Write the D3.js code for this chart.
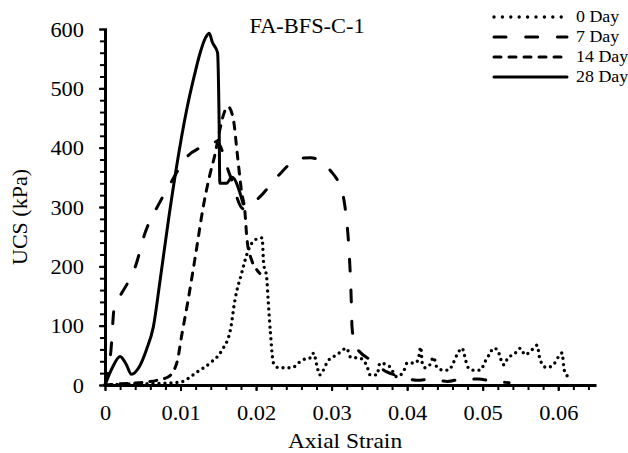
<!DOCTYPE html>
<html>
<head>
<meta charset="utf-8">
<script src="https://cdn.jsdelivr.net/npm/d3@7"></script>
<style>
  body { margin: 0; background: #fff; }
  svg { display: block; }
</style>
</head>
<body>
<svg id="chart" width="628" height="453"></svg>
<script>
// UCS vs axial strain, FA-BFS-C-1
const title = "FA-BFS-C-1";
const seriesNames = ["0 Day", "7 Day", "14 Day", "28 Day"];

const strain0 = [0, 0.004, 0.008, 0.01, 0.0122, 0.0139, 0.0155, 0.0166, 0.0172, 0.0181, 0.019, 0.0199, 0.0208, 0.021, 0.0214, 0.0216, 0.0219, 0.0223, 0.023, 0.0247, 0.0261, 0.0274, 0.0276, 0.0281, 0.0284, 0.0296, 0.0307, 0.032, 0.0325, 0.0338, 0.0347, 0.0351, 0.036, 0.0364, 0.0377, 0.0386, 0.0395, 0.04, 0.0411, 0.0415, 0.0418, 0.042, 0.0424, 0.043, 0.0435, 0.0439, 0.0448, 0.0455, 0.0461, 0.0466, 0.0473, 0.0475, 0.0481, 0.0488, 0.0497, 0.0503, 0.051, 0.0514, 0.052, 0.0523, 0.0528, 0.0534, 0.0541, 0.055, 0.0556, 0.0565, 0.0572, 0.0576, 0.0585, 0.0594, 0.0605, 0.0608, 0.0613];
const ucs0 = [0, 2, 3, 5, 22, 37, 59, 93, 143, 189, 228, 245, 248, 205, 182, 143, 88, 37, 29, 29, 42, 47, 54, 30, 17, 42, 51, 62, 47, 45, 31, 17, 17, 37, 31, 14, 22, 37, 37, 45, 64, 37, 29, 34, 47, 31, 25, 25, 37, 51, 62, 54, 29, 25, 25, 39, 54, 62, 59, 47, 34, 47, 51, 62, 51, 59, 67, 42, 29, 35, 54, 25, 14];

const strain7 = [0, 0.0008, 0.0012, 0.002, 0.003, 0.004, 0.0053, 0.0073, 0.0089, 0.0108, 0.0126, 0.0148, 0.0165, 0.0183, 0.0205, 0.0228, 0.0258, 0.0272, 0.0298, 0.0315, 0.0319, 0.0323, 0.0326, 0.0327, 0.0331, 0.0355, 0.0373, 0.039, 0.0413, 0.0433, 0.0453, 0.0474, 0.0494, 0.0514, 0.0535];
const ucs7 = [0, 60, 128, 150, 172, 199, 256, 309, 345, 384, 400, 410, 355, 297, 317, 351, 382, 383, 362, 320, 287, 228, 143, 98, 67, 39, 22, 15, 8, 10, 6, 10, 10, 6, 4];

const strain14 = [0, 0.002, 0.0037, 0.0055, 0.0069, 0.0084, 0.0095, 0.0102, 0.011, 0.0121, 0.013, 0.0138, 0.0146, 0.0152, 0.0159, 0.0163, 0.017, 0.0175, 0.0181, 0.0185, 0.0188, 0.0194, 0.0201, 0.0205];
const ucs14 = [0, 2, 3, 5, 8, 14, 37, 87, 143, 228, 300, 350, 391, 430, 463, 469, 447, 391, 324, 295, 245, 211, 194, 188];

const strain28 = [0, 0.001, 0.002, 0.0028, 0.0035, 0.0045, 0.0055, 0.0064, 0.0073, 0.0084, 0.0095, 0.0108, 0.0118, 0.0126, 0.0133, 0.0138, 0.0142, 0.0149, 0.0151, 0.0152, 0.0161, 0.0168, 0.0183];
const ucs28 = [0, 30, 48, 35, 18, 30, 60, 98, 177, 278, 370, 463, 520, 560, 585, 593, 578, 560, 450, 340, 340, 350, 305];

const xMajor = [0, 0.01, 0.02, 0.03, 0.04, 0.05, 0.06];
const yMajor = [0, 100, 200, 300, 400, 500, 600];

const series = [
  { name: seriesNames[0], xs: strain0, ys: ucs0, dash: "0 6", legDash: "0 8.4", w: 3.4 },
  { name: seriesNames[1], xs: strain7, ys: ucs7, dash: "12 19", legDash: "12 19.7", w: 3 },
  { name: seriesNames[2], xs: strain14, ys: ucs14, dash: "7 8", legDash: "7 8", w: 3 },
  { name: seriesNames[3], xs: strain28, ys: ucs28, dash: null, legDash: null, w: 3 }
];

const serif = '"Liberation Serif", "Times New Roman", "DejaVu Serif", serif';
const svg = d3.select("#chart").style("font-family", serif);
const sx = 1.12; // the text in the picture is a little wider than tall

const x = d3.scaleLinear().domain([0, 0.065]).range([105, 596]);
const y = d3.scaleLinear().domain([0, 600]).range([385, 29]);

// curves
const line = d3.line()
  .x(d => x(d[0]))
  .y(d => y(d[1]))
  .curve(d3.curveMonotoneX);

svg.append("g")
  .selectAll("path.series")
  .data(series)
  .join("path")
  .attr("class", "series")
  .attr("d", s => line(s.xs.map((v, i) => [v, s.ys[i]])))
  .attr("fill", "none")
  .attr("stroke", "#000")
  .attr("stroke-width", s => s.w)
  .attr("stroke-linecap", "round")
  .attr("stroke-linejoin", "round")
  .attr("stroke-dasharray", s => s.dash);

// x axis
const xMinorAxis = d3.axisBottom(x)
  .tickValues(d3.range(0, 66, 2).map(d => d / 1000))
  .tickSize(5)
  .tickFormat("");
svg.append("g")
  .attr("transform", `translate(0,${y(0)})`)
  .call(xMinorAxis)
  .call(g => g.select(".domain").remove())
  .call(g => g.selectAll("line").attr("stroke-width", 2));

const xAxis = d3.axisBottom(x)
  .tickValues(xMajor)
  .tickSize(6)
  .tickSizeOuter(0)
  .tickFormat(d => d === 0 ? "0" : d3.format(".2f")(d));
svg.append("g")
  .attr("transform", `translate(0,${y(0)})`)
  .call(xAxis)
  .attr("font-family", serif)
  .call(g => g.select(".domain").attr("stroke-width", 3))
  .call(g => g.selectAll("line").attr("stroke-width", 2))
  .call(g => g.selectAll("text")
    .attr("y", 35).attr("dy", null)
    .attr("transform", `scale(${sx},1)`)
    .style("font-family", serif)
    .style("font-size", "20px"));

// y axis
const yMinorAxis = d3.axisLeft(y)
  .tickValues(d3.range(0, 601, 20))
  .tickSize(5)
  .tickFormat("");
svg.append("g")
  .attr("transform", `translate(${x(0)},0)`)
  .call(yMinorAxis)
  .call(g => g.select(".domain").remove())
  .call(g => g.selectAll("line").attr("x2", -5).attr("x1", 2).attr("stroke-width", 2));

const yAxis = d3.axisLeft(y)
  .tickValues(yMajor)
  .tickSize(6)
  .tickSizeOuter(0);
svg.append("g")
  .attr("transform", `translate(${x(0)},0)`)
  .call(yAxis)
  .attr("font-family", serif)
  .call(g => g.select(".domain").attr("stroke-width", 3))
  .call(g => g.selectAll("line").attr("x1", 2).attr("stroke-width", 2))
  .call(g => g.selectAll("text")
    .attr("x", -21 / sx).attr("dy", null).attr("y", 7)
    .attr("transform", `scale(${sx},1)`)
    .style("font-family", serif)
    .style("font-size", "20px"));

// labels
svg.append("text")
  .attr("transform", `translate(345,448) scale(${sx},1)`)
  .attr("text-anchor", "middle")
  .style("font-family", serif)
  .style("font-size", "21px")
  .text("Axial Strain");

svg.append("text")
  .attr("transform", "translate(27,217) rotate(-90)")
  .attr("text-anchor", "middle")
  .style("font-family", serif)
  .style("font-size", "22px")
  .text("UCS (kPa)");

svg.append("text")
  .attr("transform", `translate(307,33) scale(${sx},1)`)
  .attr("text-anchor", "middle")
  .style("font-family", serif)
  .style("font-size", "20px")
  .text(title);

// legend
const legend = svg.append("g")
  .selectAll("g.leg")
  .data(series)
  .join("g")
  .attr("class", "leg")
  .attr("transform", (d, i) => `translate(0,${17 + i * 20})`);

legend.append("line")
  .attr("x1", 494).attr("x2", 567)
  .attr("stroke", "#000")
  .attr("stroke-width", d => d.w)
  .attr("stroke-linecap", "round")
  .attr("stroke-dasharray", d => d.legDash);

legend.append("text")
  .attr("transform", `translate(576,5) scale(${sx},1)`)
  .style("font-family", serif)
  .style("font-size", "16px")
  .text(d => d.name);
</script>
</body>
</html>
